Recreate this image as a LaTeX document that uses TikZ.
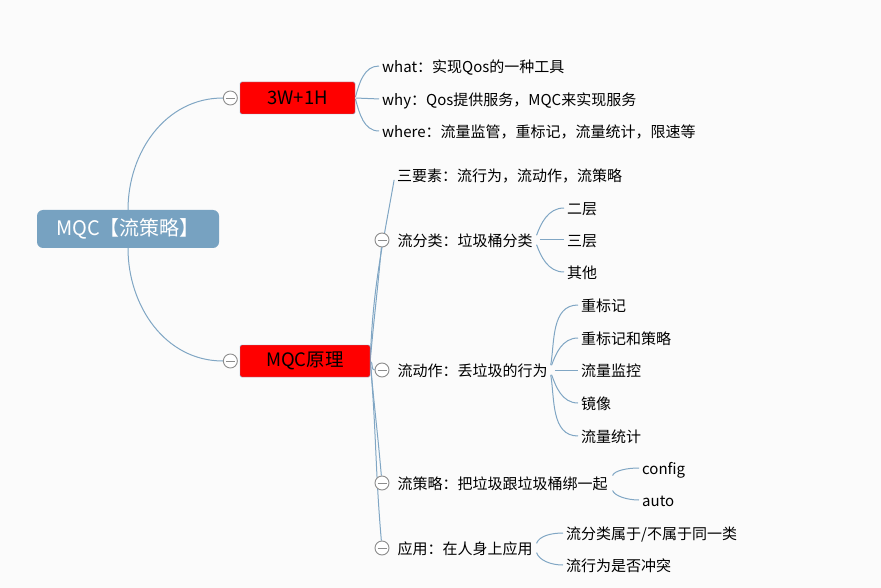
\documentclass[tikz,border=0pt]{standalone}
\usepackage{fontspec}
\setmainfont{Noto Sans CJK SC}
\usetikzlibrary{positioning,backgrounds}

\definecolor{linkc}{RGB}{128,166,196}
\definecolor{rootc}{RGB}{119,162,193}
\definecolor{foldc}{RGB}{140,140,140}
\definecolor{paper}{RGB}{251,251,251}

\begin{document}
\begin{tikzpicture}[
    x=1pt, y=1pt,
    node distance=2pt,
    every node/.style={font=\fontsize{15}{18}\selectfont},
    root/.style={rectangle, fill=rootc, text=white, rounded corners=6pt, minimum width=182pt, minimum height=38pt, font=\fontsize{20}{23}\selectfont},
    topic/.style={rectangle, draw=linkc, fill=red, rounded corners=1.5pt, minimum height=32pt, font=\fontsize{18.5}{21}\selectfont},
    leaf/.style={anchor=west, inner sep=2pt, text height=13.5pt, text depth=0.5pt},
    fold/.style={circle, draw=foldc, fill=white, line width=0.9pt, minimum size=14pt, inner sep=0pt,
        path picture={\draw[foldc, line width=0.9pt] ([xshift=-4.5pt]path picture bounding box.center) -- ([xshift=4.5pt]path picture bounding box.center);}},
    link/.style={draw=linkc, line width=1pt},
    brace/.style={link, shorten <=5pt, shorten >=1pt}
]
\useasboundingbox (0,0) rectangle (881,-588);

% root
\node[root] (root) at (128,-229) {MQC【流策略】};

% 3W+1H
\node[topic, minimum width=115pt] (w3h) at (297.5,-98) {3W+1H};
\node[fold, left=of w3h] (f-w3h) {};
\node[leaf] (what) at (380,-66) {what：实现Qos的一种工具};
\node[leaf] (why) at (380,-99) {why：Qos提供服务，MQC来实现服务};
\node[leaf] (where) at (380,-131) {where：流量监管，重标记，流量统计，限速等};

% MQC原理
\node[topic, minimum width=130pt] (mqc) at (305,-361) {MQC原理};
\node[fold, left=of mqc] (f-mqc) {};
\node[leaf] (sanyao) at (395,-175) {三要素：流行为，流动作，流策略};
\node[fold] (f-fenlei) at (382,-240) {};
\node[leaf, right=6pt of f-fenlei] (fenlei) {流分类：垃圾桶分类};
\node[fold] (f-dongzuo) at (382,-370) {};
\node[leaf, right=6pt of f-dongzuo] (dongzuo) {流动作：丢垃圾的行为};
\node[fold] (f-celue) at (382,-483) {};
\node[leaf, right=6pt of f-celue] (celue) {流策略：把垃圾跟垃圾桶绑一起};
\node[fold] (f-yingyong) at (382,-548) {};
\node[leaf, right=6pt of f-yingyong] (yingyong) {应用：在人身上应用};

% 流分类
\node[leaf] (erceng) at (565,-208) {二层};
\node[leaf] (sanceng) at (565,-240) {三层};
\node[leaf] (qita) at (565,-272) {其他};

% 流动作
\node[leaf] (remark) at (579,-305) {重标记};
\node[leaf] (remark-cb) at (579,-338) {重标记和策略};
\node[leaf] (car) at (579,-370) {流量监控};
\node[leaf] (mirror) at (579,-403) {镜像};
\node[leaf] (stat) at (579,-436) {流量统计};

% 流策略
\node[leaf] (config) at (640,-468) {config};
\node[leaf] (automode) at (640,-500) {auto};

% 应用
\node[leaf] (same) at (564,-533) {流分类属于/不属于同一类};
\node[leaf] (conflict) at (564,-565) {流行为是否冲突};

\begin{scope}[on background layer]
\fill[paper] (0,0) rectangle (881,-588);

\draw[link] (root.north) to[out=90,in=180] (f-w3h.west);
\draw[link] (root.south) to[out=-90,in=180] (f-mqc.west);

\draw[brace, shorten <=1pt] (w3h.east) to[out=75,in=180] (what.west);
\draw[brace, shorten <=1pt] (w3h.east) -- (why.west);
\draw[brace, shorten <=1pt] (w3h.east) to[out=-75,in=180] (where.west);

\draw[link, shorten >=5pt] (mqc.east) to[out=88,in=-100] (sanyao.west);
\draw[link] (mqc.east) to[out=85,in=-95] (f-fenlei);
\draw[link] (mqc.east) to[out=-30,in=180] (f-dongzuo);
\draw[link] (mqc.east) to[out=-85,in=95] (f-celue);
\draw[link] (mqc.east) to[out=-85,in=95] (f-yingyong);

\draw[brace] (fenlei.east) to[out=70,in=180] (erceng.west);
\draw[brace] (fenlei.east) -- (sanceng.west);
\draw[brace] (fenlei.east) to[out=-70,in=180] (qita.west);

\draw[brace] (dongzuo.east) to[out=80,in=180] (remark.west);
\draw[brace] (dongzuo.east) to[out=70,in=180] (remark-cb.west);
\draw[brace] (dongzuo.east) -- (car.west);
\draw[brace] (dongzuo.east) to[out=-70,in=180] (mirror.west);
\draw[brace] (dongzuo.east) to[out=-80,in=180] (stat.west);

\draw[brace, shorten <=8pt] (celue.east) to[out=70,in=180] (config.west);
\draw[brace, shorten <=8pt] (celue.east) to[out=-70,in=180] (automode.west);

\draw[brace] (yingyong.east) to[out=70,in=180] (same.west);
\draw[brace] (yingyong.east) to[out=-70,in=180] (conflict.west);
\end{scope}
\end{tikzpicture}
\end{document}
